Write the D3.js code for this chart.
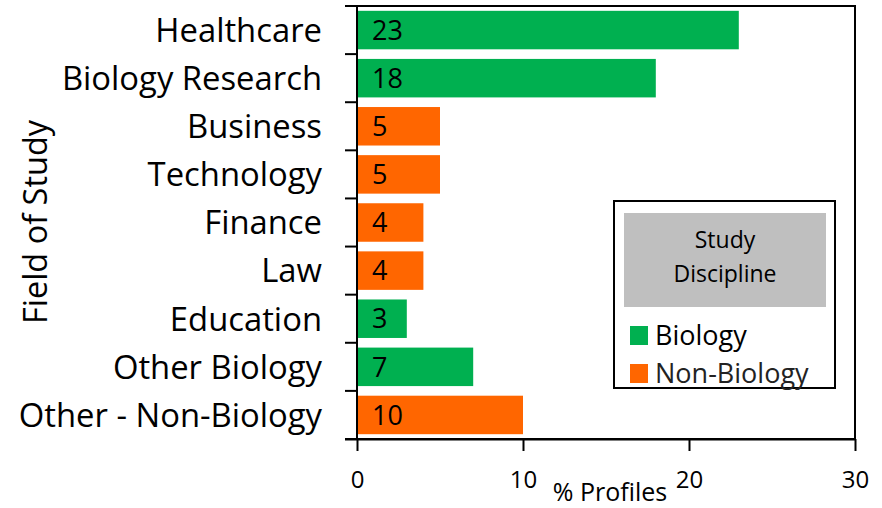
<!DOCTYPE html>
<html><head><meta charset="utf-8">
<script src="https://cdn.jsdelivr.net/npm/d3@7"></script>
<style>body{margin:0;background:#fff}svg{display:block}</style>
</head><body>
<script>
const categories = ["Healthcare","Biology Research","Business","Technology","Finance","Law","Education","Other Biology","Other - Non-Biology"];
const values = [23,18,5,5,4,4,3,7,10];
const groups = ["Biology","Biology","Non-Biology","Non-Biology","Non-Biology","Non-Biology","Biology","Biology","Non-Biology"];
const legendKeys = ["Biology","Non-Biology"];
const xTicks = [0,10,20,30];

(function(){
const W = 882, H = 508;
const font = "'Open Sans', Lato, sans-serif";
const svg = d3.select("body").append("svg").attr("width",W).attr("height",H);
const pL = 357, pR = 855, pT = 6, pB = 439;
const x = d3.scaleLinear().domain([0,30]).range([pL,pR]);
const y = d3.scaleBand().domain(categories).range([pT,pB]).paddingInner(0.2).paddingOuter(0.1);
const color = d3.scaleOrdinal().domain(legendKeys).range(["#00B050","#FF6600"]);

svg.append("rect").attr("x",pL).attr("y",pT).attr("width",pR-pL).attr("height",pB-pT)
  .attr("fill","none").attr("stroke","#000").attr("stroke-width",2);

const data = categories.map((c,i)=>({c, v:values[i], g:groups[i]}));
svg.selectAll(".bar").data(data).join("rect").attr("class","bar")
  .attr("x",x(0)+1).attr("y",d=>y(d.c)).attr("width",d=>x(d.v)-x(0)-1).attr("height",y.bandwidth())
  .attr("fill",d=>color(d.g));
svg.selectAll(".val").data(data).join("text").attr("class","val")
  .attr("x",x(0)+15).attr("y",d=>y(d.c)+y.bandwidth()/2).attr("dy","0.36em")
  .attr("font-family",font).attr("font-size",27).attr("fill","#000").text(d=>d.v);

const step = (pB-pT)/categories.length;
const bounds = d3.range(categories.length+1).map(i=>pT+i*step);
svg.selectAll(".ytick").data(bounds).join("line")
  .attr("x1",pL-12).attr("x2",pL).attr("y1",d=>d).attr("y2",d=>d).attr("stroke","#000").attr("stroke-width",2);
svg.selectAll(".ylab").data(categories).join("text")
  .attr("x",322).attr("y",d=>y(d)+y.bandwidth()/2).attr("dy","0.36em").attr("text-anchor","end")
  .attr("font-family",font).attr("font-size",32.8).attr("fill","#000").text(d=>d);

const xAxis = svg.append("g").attr("transform",`translate(0,${pB})`)
  .call(d3.axisBottom(x).tickValues(xTicks).tickSize(12).tickPadding(20));
xAxis.select(".domain").attr("stroke-width",2).attr("d",`M${pL-12},0.5H${pR}`);
xAxis.selectAll(".tick line").attr("stroke-width",2);
xAxis.selectAll("text").attr("font-family",font).attr("font-size",24).attr("fill","#000");

svg.append("text").attr("x",610).attr("y",501).attr("text-anchor","middle")
  .attr("font-family",font).attr("font-size",25).text("% Profiles");
svg.append("text").attr("transform","translate(47,222) rotate(-90)").attr("text-anchor","middle")
  .attr("font-family",font).attr("font-size",32.5).text("Field of Study");

const lg = svg.append("g");
lg.append("rect").attr("x",614).attr("y",201).attr("width",221).attr("height",187)
  .attr("fill","#fff").attr("stroke","#000").attr("stroke-width",2);
lg.append("rect").attr("x",624).attr("y",213).attr("width",202).attr("height",94).attr("fill","#BFBFBF");
lg.append("text").attr("x",725).attr("y",248).attr("text-anchor","middle").attr("font-family",font).attr("font-size",23).text("Study");
lg.append("text").attr("x",725).attr("y",282).attr("text-anchor","middle").attr("font-family",font).attr("font-size",23).text("Discipline");
legendKeys.forEach((k,i)=>{
  const yy = 345 + i*38;
  lg.append("rect").attr("x",630).attr("y",yy-19).attr("width",18).attr("height",19).attr("fill",color(k));
  lg.append("text").attr("x",655).attr("y",yy).attr("font-family",font).attr("font-size",27)
    .attr("fill", i===0?"#000":"#222").text(k);
});
})();
</script>
</body></html>
